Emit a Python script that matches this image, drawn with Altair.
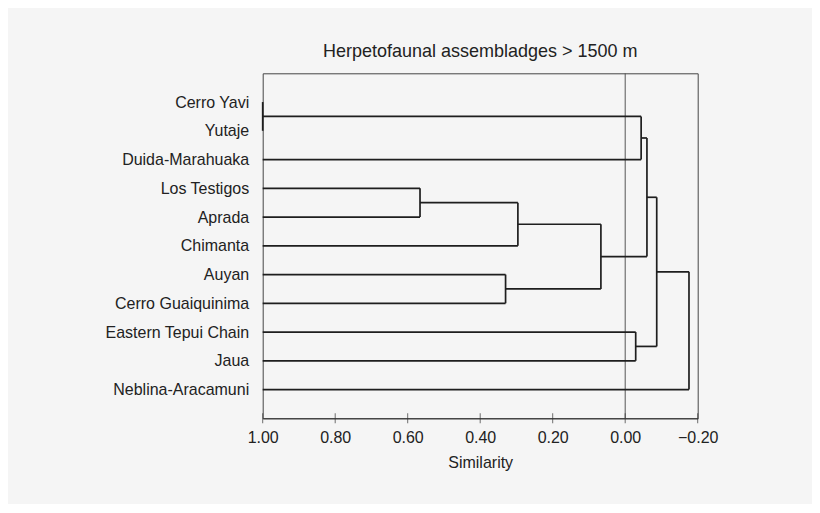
import altair as alt
import pandas as pd

# Leaf labels (top to bottom)
labels = [
    "Cerro Yavi", "Yutaje", "Duida-Marahuaka", "Los Testigos", "Aprada",
    "Chimanta", "Auyan", "Cerro Guaiquinima", "Eastern Tepui Chain", "Jaua",
    "Neblina-Aracamuni",
]
# Merges: node ids 0..10 are leaves, 11.. are merge nodes in this order
merge_left = [0, 11, 3, 13, 6, 14, 12, 8, 17, 19]
merge_right = [1, 2, 4, 5, 7, 15, 16, 9, 18, 10]
merge_similarity = [1.00, -0.044, 0.566, 0.296, 0.330, 0.067, -0.060, -0.029, -0.087, -0.176]
x_ticks = [1.0, 0.8, 0.6, 0.4, 0.2, 0.0, -0.2]

# Dendrogram layout
node_x = [1.0] * len(labels)
node_y = [float(i) for i in range(len(labels))]
segs = []
for a, b, s in zip(merge_left, merge_right, merge_similarity):
    ya, yb = node_y[a], node_y[b]
    segs.append({"x": node_x[a], "x2": s, "y": ya, "y2": ya})
    segs.append({"x": node_x[b], "x2": s, "y": yb, "y2": yb})
    segs.append({"x": s, "x2": s, "y": ya, "y2": yb})
    node_x.append(s)
    node_y.append((ya + yb) / 2)
seg_df = pd.DataFrame(segs)
tick_df = pd.DataFrame({"t": x_ticks, "yb": [float(len(labels))] * len(x_ticks)})
zero_df = pd.DataFrame({"z": [0.0], "y0": [-1.0], "y1": [float(len(labels))]})

FONT = "Liberation Sans"
label_js = "[" + ",".join("'" + l + "'" for l in labels) + "]"

xscale = alt.Scale(domain=[-0.2, 1.0], reverse=True, nice=False, zero=False)
yscale = alt.Scale(domain=[-1, len(labels)], reverse=True, nice=False, zero=False)

xaxis = alt.Axis(
    values=x_ticks, format=".2f",
    labelExpr="replace(format(datum.value, '.2f'), '-', '\u2013')",
    ticks=False, labelPadding=11, labelFontSize=16, labelFont=FONT,
    labelColor="#222", title="Similarity", titleFontSize=16, titleFont=FONT,
    titleFontWeight="normal", titleColor="#222", titlePadding=9,
    grid=False, domainColor="#333", labelFlush=False, labelOverlap=False,
)
yaxis = alt.Axis(
    values=list(range(len(labels))),
    labelExpr=label_js + "[datum.value]",
    ticks=False, domain=False, grid=False, labelPadding=14,
    labelFontSize=16, labelFont=FONT, labelColor="#222", title=None,
    labelOverlap=False,
)

branches = alt.Chart(seg_df).mark_rule(color="#1e1e1e", strokeWidth=1.7).encode(
    x=alt.X("x:Q", scale=xscale, axis=xaxis),
    x2="x2:Q",
    y=alt.Y("y:Q", scale=yscale, axis=yaxis),
    y2="y2:Q",
)

zero_line = alt.Chart(zero_df).mark_rule(color="#555", strokeWidth=1).encode(
    x=alt.X("z:Q", scale=xscale, axis=xaxis),
    y=alt.Y("y0:Q", scale=yscale, axis=yaxis),
    y2="y1:Q",
)

ticks = alt.Chart(tick_df).mark_tick(
    orient="vertical", size=10, thickness=1, color="#333"
).encode(
    x=alt.X("t:Q", scale=xscale, axis=xaxis),
    y=alt.Y("yb:Q", scale=yscale, axis=yaxis),
)

chart = alt.layer(zero_line, branches, ticks).properties(
    width=435,
    height=345,
    title=alt.TitleParams(
        "Herpetofaunal assembladges > 1500 m",
        fontSize=18, font=FONT, fontWeight="normal", color="#222",
        anchor="middle", offset=12,
    ),
    autosize=alt.AutoSizeParams(type="none"),
    padding={"left": 254.7, "top": 65.3, "right": 114, "bottom": 86},
    background="#f5f5f5",
).configure_view(stroke="#444", strokeWidth=1)

chart.save("out.html", embed_options={"renderer": "svg", "actions": False})
